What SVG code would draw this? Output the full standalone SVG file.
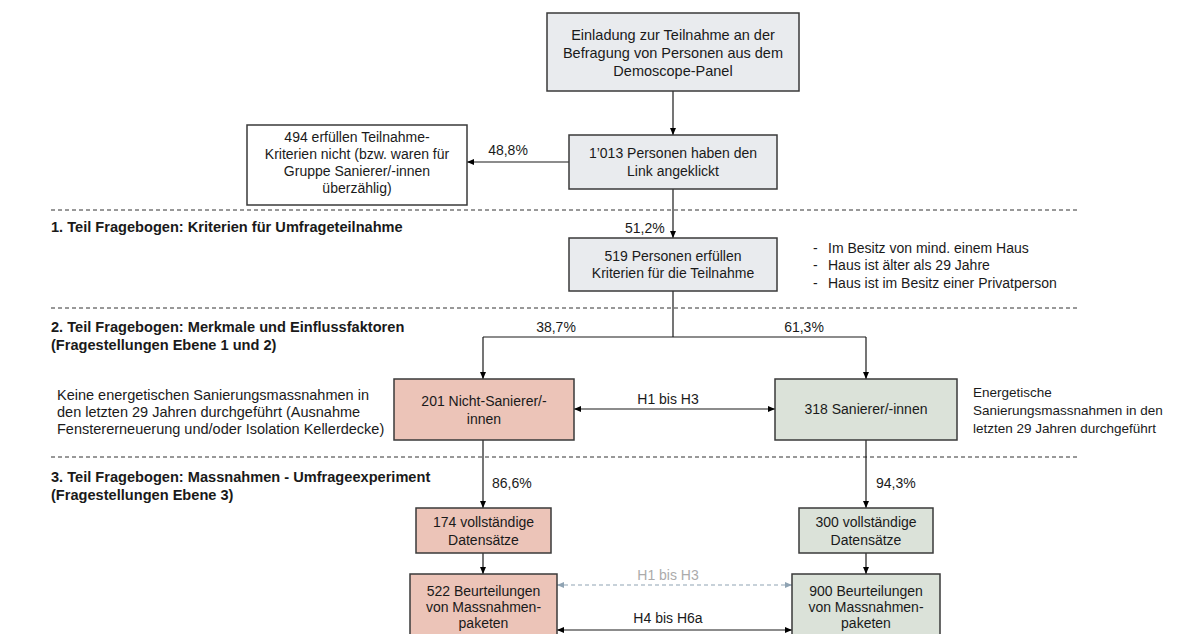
<svg xmlns="http://www.w3.org/2000/svg" width="1179" height="634" viewBox="0 0 1179 634">
<defs>
<marker id="ah" markerWidth="8" markerHeight="8" refX="7" refY="4" orient="auto-start-reverse" markerUnits="userSpaceOnUse"><path d="M0,1 L7,4 L0,7 Z" fill="#000"/></marker>
<marker id="ahg" markerWidth="8" markerHeight="8" refX="7" refY="4" orient="auto-start-reverse" markerUnits="userSpaceOnUse"><path d="M0,1 L7,4 L0,7 Z" fill="#8fa3b3"/></marker>
<style>
text{font-family:"Liberation Sans",Arial,sans-serif;font-size:14px;fill:#1a1a1a}
.c{text-anchor:middle}
.b{font-weight:bold;font-size:14.6px}
.g{fill:#ababab}
.s{font-size:13.5px}
.l{font-size:14.5px}
.box{stroke:#3a3a3a;stroke-width:1.5}
.gray{fill:#e9ebee}
.white{fill:#ffffff}
.pink{fill:#ecc4b8}
.green{fill:#dbe2d9}
.ln{stroke:#1a1a1a;stroke-width:1.2;fill:none}
.dash{stroke:#333;stroke-width:1;stroke-dasharray:4 3;fill:none}
.gd{stroke:#8fa3b3;stroke-width:1.2;stroke-dasharray:4 3;fill:none}
</style>
</defs>
<rect width="1179" height="634" fill="#fff"/>
<g id="sections">
<line class="dash" x1="51" y1="210" x2="1079" y2="210"/>
<line class="dash" x1="51" y1="308" x2="1079" y2="308"/>
<line class="dash" x1="51" y1="457" x2="1079" y2="457"/>
<text class="b" x="51" y="232">1. Teil Fragebogen: Kriterien für Umfrageteilnahme</text>
<text class="b" x="51" y="332">2. Teil Fragebogen: Merkmale und Einflussfaktoren</text>
<text class="b" x="51" y="350">(Fragestellungen Ebene 1 und 2)</text>
<text class="b" x="51" y="482">3. Teil Fragebogen: Massnahmen - Umfrageexperiment</text>
<text class="b" x="51" y="500">(Fragestellungen Ebene 3)</text>
</g>
<g id="connectors">
<line class="ln" x1="673" y1="91" x2="673" y2="135" marker-end="url(#ah)"/>
<line class="ln" x1="569" y1="162" x2="467" y2="162" marker-end="url(#ah)"/>
<text class="c" x="508" y="155">48,8%</text>
<line class="ln" x1="673" y1="189" x2="673" y2="238" marker-end="url(#ah)"/>
<text x="625" y="233">51,2%</text>
<polyline class="ln" points="673,291 673,337"/>
<line class="ln" x1="673" y1="337" x2="483" y2="337"/>
<line class="ln" x1="673" y1="337" x2="866" y2="337"/>
<line class="ln" x1="483" y1="337" x2="483" y2="379" marker-end="url(#ah)"/>
<line class="ln" x1="866" y1="337" x2="866" y2="379" marker-end="url(#ah)"/>
<text class="c" x="556" y="332">38,7%</text>
<text class="c" x="804" y="332">61,3%</text>
<line class="ln" x1="574" y1="409" x2="775" y2="409" marker-start="url(#ah)" marker-end="url(#ah)"/>
<text class="c" x="668" y="404">H1 bis H3</text>
<line class="ln" x1="483" y1="440" x2="483" y2="508" marker-end="url(#ah)"/>
<text x="492" y="488">86,6%</text>
<line class="ln" x1="866" y1="440" x2="866" y2="508" marker-end="url(#ah)"/>
<text x="876" y="488">94,3%</text>
<line class="ln" x1="483" y1="553" x2="483" y2="574" marker-end="url(#ah)"/>
<line class="ln" x1="866" y1="553" x2="866" y2="574" marker-end="url(#ah)"/>
<line class="gd" x1="557" y1="585" x2="792" y2="585" marker-start="url(#ahg)" marker-end="url(#ahg)"/>
<text class="c g" x="668" y="580">H1 bis H3</text>
<line class="ln" x1="557" y1="630" x2="792" y2="630" marker-start="url(#ah)" marker-end="url(#ah)"/>
<text class="c" x="668" y="623">H4 bis H6a</text>
</g>
<g id="n-einladung">
<rect class="box gray" x="547" y="13" width="252" height="78"/>
<text class="c l" x="673" y="40">Einladung zur Teilnahme an der</text>
<text class="c l" x="673" y="58">Befragung von Personen aus dem</text>
<text class="c l" x="673" y="76">Demoscope-Panel</text>
</g>
<g id="n-link">
<rect class="box gray" x="569" y="135" width="208" height="54"/>
<text class="c" x="673" y="158">1’013 Personen haben den</text>
<text class="c" x="673" y="176">Link angeklickt</text>
</g>
<g id="n-494">
<rect class="box white" x="247" y="125" width="220" height="80"/>
<text class="c" x="357" y="142">494 erfüllen Teilnahme-</text>
<text class="c" x="357" y="159">Kriterien nicht (bzw. waren für</text>
<text class="c" x="357" y="176">Gruppe Sanierer/-innen</text>
<text class="c" x="357" y="193">überzählig)</text>
</g>
<g id="n-519">
<rect class="box gray" x="569" y="238" width="208" height="53"/>
<text class="c" x="673" y="261">519 Personen erfüllen</text>
<text class="c" x="673" y="278">Kriterien für die Teilnahme</text>
</g>
<g id="n-kriterien">
<text x="813" y="253">-<tspan x="828">Im Besitz von mind. einem Haus</tspan></text>
<text x="813" y="270">-<tspan x="828">Haus ist älter als 29 Jahre</tspan></text>
<text x="813" y="288">-<tspan x="828">Haus ist im Besitz einer Privatperson</tspan></text>
</g>
<g id="n-nicht-sanierer">
<rect class="box pink" x="394" y="379" width="180" height="61"/>
<text class="c" x="484" y="406">201 Nicht-Sanierer/-</text>
<text class="c" x="484" y="424">innen</text>
<text class="l" x="57" y="400">Keine energetischen Sanierungsmassnahmen in</text>
<text class="l" x="57" y="417">den letzten 29 Jahren durchgeführt (Ausnahme</text>
<text class="l" x="57" y="434">Fenstererneuerung und/oder Isolation Kellerdecke)</text>
</g>
<g id="n-sanierer">
<rect class="box green" x="775" y="379" width="182" height="61"/>
<text class="c" x="866" y="414">318 Sanierer/-innen</text>
<text class="s" x="973" y="397">Energetische</text>
<text class="s" x="973" y="415">Sanierungsmassnahmen in den</text>
<text class="s" x="973" y="433">letzten 29 Jahren durchgeführt</text>
</g>
<g id="n-174">
<rect class="box pink" x="416" y="508" width="135" height="45"/>
<text class="c" x="483.5" y="527">174 vollständige</text>
<text class="c" x="483.5" y="545">Datensätze</text>
</g>
<g id="n-300">
<rect class="box green" x="799" y="508" width="134" height="45"/>
<text class="c" x="866" y="527">300 vollständige</text>
<text class="c" x="866" y="545">Datensätze</text>
</g>
<g id="n-522">
<rect class="box pink" x="410" y="574" width="147" height="70"/>
<text class="c" x="483.5" y="596">522 Beurteilungen</text>
<text class="c" x="483.5" y="612">von Massnahmen-</text>
<text class="c" x="483.5" y="628">paketen</text>
</g>
<g id="n-900">
<rect class="box green" x="792" y="574" width="148" height="70"/>
<text class="c" x="866" y="596">900 Beurteilungen</text>
<text class="c" x="866" y="612">von Massnahmen-</text>
<text class="c" x="866" y="628">paketen</text>
</g>
</svg>
